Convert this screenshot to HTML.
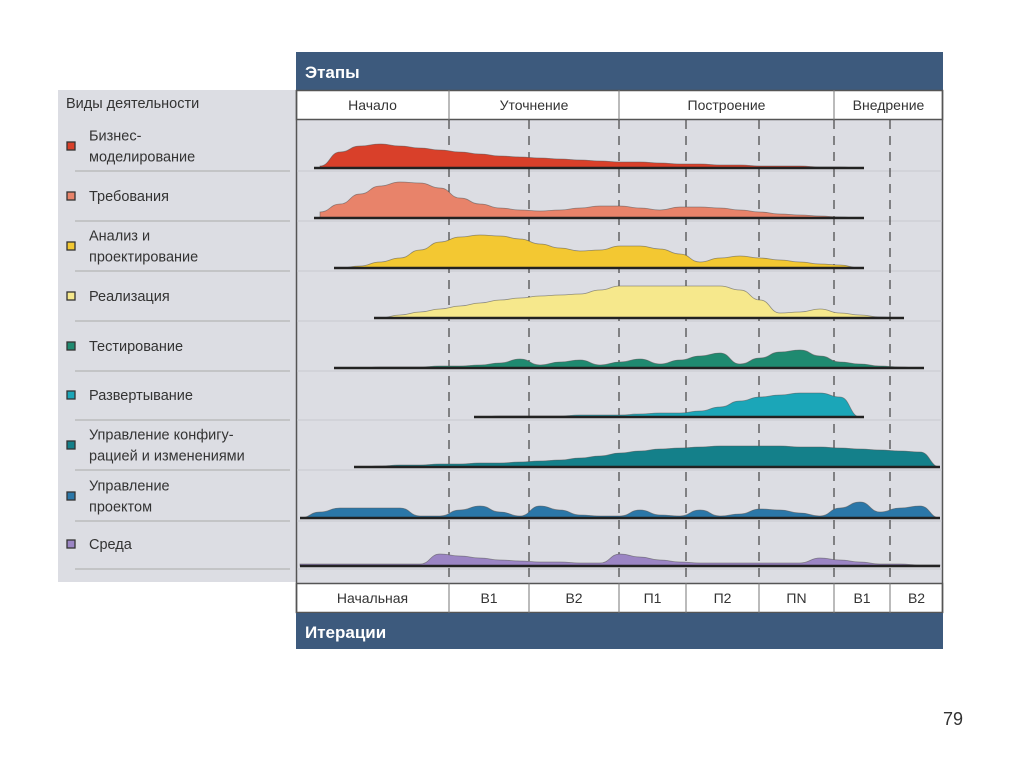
<!DOCTYPE html>
<html><head><meta charset="utf-8"><style>
body{margin:0;width:1024px;height:767px;background:#fff;font-family:"Liberation Sans","Noto Sans CJK SC",sans-serif;position:relative;overflow:hidden}
</style></head><body>
<svg width="1024" height="767" style="position:absolute;left:0;top:0">
<rect x="58" y="90" width="238" height="492" fill="#dcdde3"/>
<rect x="296" y="120" width="647" height="463" fill="#dcdde3"/>
<rect x="296" y="52" width="647" height="38" fill="#3d5a7d"/>
<text x="305" y="78" fill="#fff" font-size="17" font-weight="bold">Этапы</text>
<rect x="296.5" y="90.5" width="646" height="29" fill="#fff" stroke="#555" stroke-width="1.5"/>
<rect x="296.5" y="583.5" width="646" height="29" fill="#fff" stroke="#555" stroke-width="1.5"/>
<rect x="296" y="613" width="647" height="36" fill="#3d5a7d"/>
<text x="305" y="638" fill="#fff" font-size="17" font-weight="bold">Итерации</text>
<line x1="296.5" y1="90" x2="296.5" y2="613" stroke="#555" stroke-width="1.5"/>
<line x1="942.5" y1="90" x2="942.5" y2="613" stroke="#555" stroke-width="1.5"/>
<text x="66" y="108" fill="#333" font-size="14.5">Виды деятельности</text>
<g id="grid"></g><g id="marks"></g><g id="legend"></g><g id="labels"></g>
<text x="943" y="725" fill="#333" font-size="18">79</text>
</svg>
<script>
const NS="http://www.w3.org/2000/svg";
const phases=["Начало","Уточнение","Построение","Внедрение"];
const phaseBounds=[296,449,619,834,943];
const iterations=["Начальная","B1","B2","П1","П2","ПN","B1","B2"];
const iterBounds=[296,449,529,619,686,759,834,890,943];
const activities=[["Бизнес-","моделирование"],["Требования"],["Анализ и","проектирование"],["Реализация"],["Тестирование"],["Развертывание"],["Управление конфигу-","рацией и изменениями"],["Управление","проектом"],["Среда"]];
const colors=["#d9402a","#e8836a","#f3c832","#f6e88c","#1f8a70","#1ba6b8","#14808a","#2b77a8","#9b85c4"];
// effort grid: x = 300 + i*20, i=0..32 ; null = absent
const businessModeling=[null,2,16,22,24,22,20,18,16,14,12,11,10,9,8,7,6,6,5,4,4,3,3,2,2,2,1,1,0,null,null,null,null];
const requirements=[null,6,14,24,32,36,35,30,20,14,10,8,7,8,10,12,12,10,8,11,11,10,8,6,4,3,2,1,0,null,null,null,null];
const analysisDesign=[null,null,0,2,6,10,18,26,31,33,32,29,24,20,17,18,22,22,19,14,6,10,12,10,8,6,4,3,0,null,null,null,null];
const implementation=[null,null,null,null,0,3,6,9,12,15,18,20,22,23,24,28,32,32,32,32,32,32,28,18,5,6,9,5,3,1,0,null,null];
const testing=[null,null,0,0,1,1,1,2,2,3,5,9,3,6,8,3,6,9,4,8,12,15,4,10,16,18,12,6,4,2,1,0,null];
const deployment=[null,null,null,null,null,null,null,null,null,0,1,1,1,1,2,2,2,3,4,4,6,10,16,20,22,24,24,20,0,null,null,null,null];
const configMgmt=[null,null,null,0,1,2,2,3,3,4,4,5,6,7,9,11,14,16,18,19,20,21,21,21,21,20,20,19,18,17,16,15,0];
const projectMgmt=[0,6,10,10,10,10,2,2,8,12,6,2,12,8,3,2,2,8,3,2,8,2,4,9,8,5,2,10,16,6,10,12,0];
const environment=[2,2,2,2,2,2,2,12,10,8,6,5,4,4,3,3,12,9,6,4,3,3,3,3,3,3,8,6,4,2,2,1,1];
const series=[businessModeling,requirements,analysisDesign,implementation,testing,deployment,configMgmt,projectMgmt,environment];
const baselines=[168,218,268,318,368,417,467,518,566];
const xS=i=>300+i*20, yS=(b,v)=>b-v;
function mk(tag,attrs,parent){const e=document.createElementNS(NS,tag);for(const k in attrs)e.setAttribute(k,attrs[k]);parent.appendChild(e);return e;}
const grid=document.getElementById('grid'),marks=document.getElementById('marks'),legend=document.getElementById('legend'),labels=document.getElementById('labels');
baselines.forEach(b=>{const l=mk('line',{x1:75,x2:290,y1:b+3,y2:b+3,stroke:'#aaa','stroke-width':1},grid);

mk('line',{x1:297,x2:942,y1:b+3,y2:b+3,stroke:'#c8c9cf','stroke-width':1},grid);});
iterBounds.slice(1,-1).forEach(x=>{const l=mk('line',{x1:x,x2:x,y1:120,y2:583,stroke:'#444','stroke-width':1.2,'stroke-dasharray':'9,7'},grid);
});
phaseBounds.slice(1,-1).forEach(x=>{mk('line',{x1:x,x2:x,y1:90,y2:120,stroke:'#777','stroke-width':1},grid);});
iterBounds.slice(1,-1).forEach(x=>{mk('line',{x1:x,x2:x,y1:583,y2:613,stroke:'#777','stroke-width':1},grid);});
phases.forEach((p,i)=>{const t=mk('text',{x:(phaseBounds[i]+phaseBounds[i+1])/2,y:110,'text-anchor':'middle','font-size':14,fill:'#333'},labels);t.textContent=p;
});
iterations.forEach((p,i)=>{const t=mk('text',{x:(iterBounds[i]+iterBounds[i+1])/2,y:603,'text-anchor':'middle','font-size':14,fill:'#333'},labels);t.textContent=p;
});
series.forEach((s,k)=>{const b=baselines[k];const pts=[];s.forEach((v,i)=>{if(v!==null)pts.push([xS(i),yS(b,v)]);});
if(pts.length<2)return;
let d=`M${pts[0][0]},${b} L${pts[0][0]},${pts[0][1]}`;
for(let i=1;i<pts.length;i++){const mx=(pts[i-1][0]+pts[i][0])/2;d+=` C${mx},${pts[i-1][1]} ${mx},${pts[i][1]} ${pts[i][0]},${pts[i][1]}`;}
d+=` L${pts[pts.length-1][0]},${b} Z`;
const a=mk('path',{d:d,fill:colors[k],stroke:'#555','stroke-width':0.8,'stroke-opacity':0.6},marks);

const bl=mk('line',{x1:Math.max(300,pts[0][0]-6),x2:Math.min(940,pts[pts.length-1][0]+4),y1:b,y2:b,stroke:'#222','stroke-width':2.5},marks);

const lines=activities[k];const cy=b-22;
const sq=mk('rect',{x:67,y:cy-4,width:8,height:8,fill:colors[k],stroke:'#333','stroke-width':1.3},legend);

lines.forEach((ln,j)=>{const t=mk('text',{x:89,y:cy+5+(j-(lines.length-1)/2)*21,'font-size':14.5,fill:'#333'},legend);t.textContent=ln;
});
});
</script>
</body></html>
